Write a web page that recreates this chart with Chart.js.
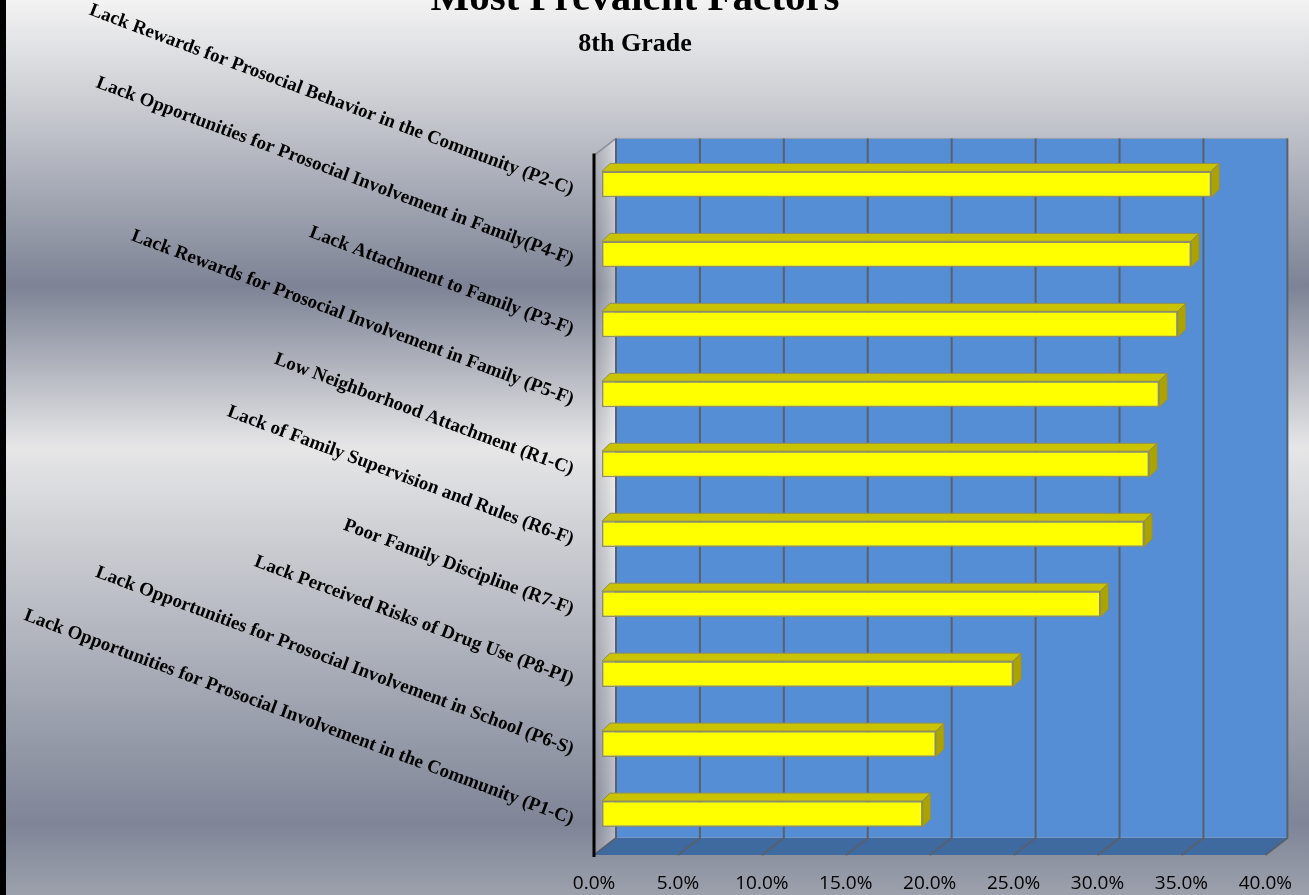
<!DOCTYPE html>
<html>
<head>
<meta charset="utf-8">
<script src="https://cdn.jsdelivr.net/npm/chart.js@4.4.0/dist/chart.umd.min.js"></script>
<style>
  html, body { margin: 0; padding: 0; background: #fff; }
  #wrap { width: 1309px; height: 895px; position: relative; }
</style>
</head>
<body>
<div id="wrap"><canvas id="grafico"></canvas></div>
<script>
// --- Dados ---
const fatores = [
  "Lack Rewards for Prosocial Behavior in the Community (P2-C)",
  "Lack Opportunities for Prosocial Involvement in Family(P4-F)",
  "Lack Attachment to Family (P3-F)",
  "Lack Rewards for Prosocial Involvement in Family (P5-F)",
  "Low Neighborhood Attachment (R1-C)",
  "Lack of Family Supervision and Rules (R6-F)",
  "Poor Family Discipline (R7-F)",
  "Lack Perceived Risks of Drug Use (P8-PI)",
  "Lack Opportunities for Prosocial Involvement in School (P6-S)",
  "Lack Opportunities for Prosocial Involvement in the Community (P1-C)"
];
const valores = [36.3, 35.1, 34.3, 33.2, 32.6, 32.3, 29.7, 24.5, 19.9, 19.1];
const rotulosX = ["0.0%", "5.0%", "10.0%", "15.0%", "20.0%", "25.0%", "30.0%", "35.0%", "40.0%"];

// profundidade do "3D"
const FUNDO_DX = 22, FUNDO_DY = 17;   // parede do fundo
const BARRA_DX = 8, BARRA_DY = 6;     // plano das barras
const FACE_DX = 8, FACE_DY = 8;       // espessura das barras

// --- Fundo cromado ---
const pluginFundo = {
  id: "fundo",
  beforeDraw(chart) {
    const { ctx, width, height } = chart;
    const g = ctx.createLinearGradient(0, 0, 0, height);
    g.addColorStop(0, "#f3f3f3");
    g.addColorStop(0.12, "#c9cbd1");
    g.addColorStop(0.32, "#7d8395");
    g.addColorStop(0.5, "#e6e6e7");
    g.addColorStop(0.68, "#b9bcc4");
    g.addColorStop(0.92, "#7f8597");
    g.addColorStop(1, "#9ca1ac");
    ctx.save();
    ctx.fillStyle = g;
    ctx.fillRect(0, 0, width, height);
    ctx.fillStyle = "#000";
    ctx.fillRect(0, 0, 6, height);
    ctx.restore();
  }
};

// --- Paredes, piso e barras 3D ---
const pluginParedes = {
  id: "paredes",
  beforeDatasetsDraw(chart) {
    const { ctx, chartArea: a, scales } = chart;
    const x = scales.x;
    ctx.save();
    // parede lateral
    const gl = ctx.createLinearGradient(a.left, 0, a.left + FUNDO_DX, 0);
    gl.addColorStop(0, "rgba(150,150,155,0.35)");
    gl.addColorStop(1, "rgba(255,255,255,0.45)");
    ctx.fillStyle = gl;
    ctx.beginPath();
    ctx.moveTo(a.left, a.top);
    ctx.lineTo(a.left + FUNDO_DX, a.top - FUNDO_DY);
    ctx.lineTo(a.left + FUNDO_DX, a.bottom - FUNDO_DY);
    ctx.lineTo(a.left, a.bottom);
    ctx.closePath();
    ctx.fill();
    ctx.strokeStyle = "#8a8f99";
    ctx.lineWidth = 1.5;
    ctx.beginPath();
    ctx.moveTo(a.left, a.top);
    ctx.lineTo(a.left + FUNDO_DX, a.top - FUNDO_DY);
    ctx.stroke();

    // parede do fundo
    ctx.fillStyle = "#558ed5";
    ctx.fillRect(a.left + FUNDO_DX, a.top - FUNDO_DY, a.right - a.left, a.bottom - a.top);
    ctx.strokeStyle = "#9aa0aa";
    ctx.lineWidth = 1;
    ctx.strokeRect(a.left + FUNDO_DX, a.top - FUNDO_DY, a.right - a.left, a.bottom - a.top);

    // piso
    ctx.fillStyle = "#3f6aa0";
    ctx.beginPath();
    ctx.moveTo(a.left, a.bottom);
    ctx.lineTo(a.right, a.bottom);
    ctx.lineTo(a.right + FUNDO_DX, a.bottom - FUNDO_DY);
    ctx.lineTo(a.left + FUNDO_DX, a.bottom - FUNDO_DY);
    ctx.closePath();
    ctx.fill();

    // linhas de grade
    ctx.strokeStyle = "#56606f";
    ctx.lineWidth = 2;
    x.ticks.forEach(t => {
      const px = x.getPixelForValue(t.value);
      ctx.beginPath();
      ctx.moveTo(px, a.bottom);
      ctx.lineTo(px + FUNDO_DX, a.bottom - FUNDO_DY);
      ctx.lineTo(px + FUNDO_DX, a.top - FUNDO_DY);
      ctx.stroke();
    });

    // eixo vertical
    ctx.strokeStyle = "#000";
    ctx.lineWidth = 3;
    ctx.beginPath();
    ctx.moveTo(a.left, a.top - 2);
    ctx.lineTo(a.left, a.bottom + 2);
    ctx.stroke();
    ctx.restore();

    // barras ficam num plano um pouco atrás
    ctx.save();
    ctx.translate(BARRA_DX, -BARRA_DY);
  },
  afterDatasetsDraw(chart) {
    const { ctx } = chart;
    const meta = chart.getDatasetMeta(0);
    ctx.lineWidth = 1;
    ctx.strokeStyle = "#8f8c5c";
    meta.data.forEach(bar => {
      const topo = bar.y - bar.height / 2;
      const baixo = bar.y + bar.height / 2;
      // face de cima
      ctx.fillStyle = "#c9c300";
      ctx.beginPath();
      ctx.moveTo(bar.base, topo);
      ctx.lineTo(bar.x, topo);
      ctx.lineTo(bar.x + FACE_DX, topo - FACE_DY);
      ctx.lineTo(bar.base + FACE_DX, topo - FACE_DY);
      ctx.closePath();
      ctx.fill();
      ctx.stroke();
      // face lateral
      ctx.fillStyle = "#aaa300";
      ctx.beginPath();
      ctx.moveTo(bar.x, topo);
      ctx.lineTo(bar.x + FACE_DX, topo - FACE_DY);
      ctx.lineTo(bar.x + FACE_DX, baixo - FACE_DY);
      ctx.lineTo(bar.x, baixo);
      ctx.closePath();
      ctx.fill();
      ctx.stroke();
    });
    ctx.restore();
  }
};

// --- Gráfico ---
const ctx = document.getElementById("grafico").getContext("2d");
new Chart(ctx, {
  type: "bar",
  data: {
    labels: fatores,
    datasets: [{
      data: valores,
      backgroundColor: "#ffff00",
      borderColor: "#8f8c6c",
      borderWidth: 1.5,
      borderSkipped: false,
      categoryPercentage: 1,
      barPercentage: 0.37,
      clip: false
    }]
  },
  options: {
    indexAxis: "y",
    responsive: true,
    maintainAspectRatio: false,
    animation: false,
    events: [],
    layout: { padding: { left: 0, right: 39, top: 0, bottom: 0 } },
    plugins: {
      legend: { display: false },
      tooltip: { enabled: false },
      title: {
        display: true,
        text: "Most Prevalent Factors",
        color: "#000",
        font: { family: "'Liberation Serif', 'Times New Roman', serif", size: 41, weight: "bold" },
        padding: { top: -25, bottom: 0 }
      },
      subtitle: {
        display: true,
        text: "8th Grade",
        color: "#000",
        font: { family: "'Liberation Serif', 'Times New Roman', serif", size: 26, weight: "bold" },
        padding: { top: 4, bottom: 96 }
      }
    },
    scales: {
      x: {
        min: 0,
        max: 40,
        grid: { display: false, drawTicks: false },
        border: { display: false },
        ticks: {
          stepSize: 5,
          padding: 17,
          color: "#000",
          font: { family: "'Open Sans', sans-serif", size: 19 },
          callback: (v, i) => rotulosX[i]
        },
        afterFit: s => { s.height = 40; }
      },
      y: {
        grid: { display: false, drawTicks: false },
        border: { display: false },
        ticks: {
          autoSkip: false,
          minRotation: -20.5,
          maxRotation: 0,
          padding: 21,
          color: "#000",
          font: { family: "'Liberation Serif', 'Times New Roman', serif", size: 19, weight: "bold" }
        },
        afterFit: s => { s.width = 594; }
      }
    }
  },
  plugins: [pluginFundo, pluginParedes]
});
</script>
</body>
</html>
